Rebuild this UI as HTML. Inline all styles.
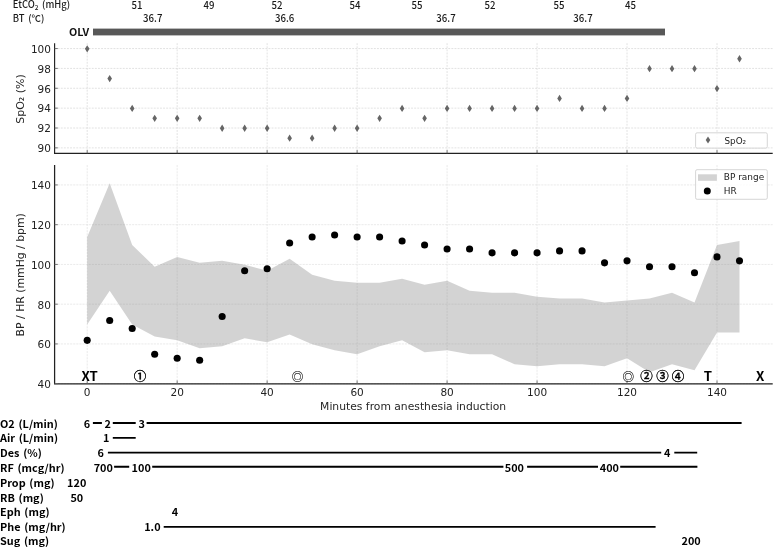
<!DOCTYPE html>
<html lang="ja"><head><meta charset="utf-8"><title>Anesthesia record</title>
<style>html,body{margin:0;padding:0;background:#fff}body{width:778px;height:548px;overflow:hidden}</style></head>
<body>
<svg width="778" height="548" viewBox="0 0 778 548" style="display:block">
<rect width="778" height="548" fill="#fff"/>
<g font-family='"Noto Sans CJK JP","Liberation Sans",sans-serif' font-size="9.6" font-weight="500" fill="#1a1a1a">
<text x="12.8" y="8.2" textLength="57.3" lengthAdjust="spacingAndGlyphs" style="word-spacing:1.6px">EtCO<tspan font-size="6.5" dy="1.6">2</tspan><tspan dy="-1.6"> (mHg)</tspan></text>
<text x="12.8" y="21.8" textLength="31.6" lengthAdjust="spacingAndGlyphs" style="word-spacing:1.6px">BT (℃)</text>
</g>
<g transform="scale(0.94,1)" font-family='"Noto Sans CJK JP","Liberation Sans",sans-serif' font-size="10.25" font-weight="500" fill="#1a1a1a" text-anchor="middle">
<text x="145.64" y="8.7">51</text>
<text x="222.34" y="8.7">49</text>
<text x="294.68" y="8.7">52</text>
<text x="377.66" y="8.7">54</text>
<text x="443.62" y="8.7">55</text>
<text x="521.28" y="8.7">52</text>
<text x="594.68" y="8.7">55</text>
<text x="670.74" y="8.7">45</text>
<text x="162.55" y="21.9">36.7</text>
<text x="302.77" y="21.9">36.6</text>
<text x="474.47" y="21.9">36.7</text>
<text x="620.21" y="21.9">36.7</text>
</g>
<text x="69" y="35.8" textLength="20.2" lengthAdjust="spacingAndGlyphs" font-family='"Noto Sans CJK JP","Liberation Sans",sans-serif' font-weight="700" font-size="10" fill="#111">OLV</text>
<rect x="93" y="28.6" width="572" height="6.8" fill="#585858"/>
<path d="M87.20 43.20V153.30M177.17 43.20V153.30M267.14 43.20V153.30M357.12 43.20V153.30M447.09 43.20V153.30M537.06 43.20V153.30M627.03 43.20V153.30M717.00 43.20V153.30M54.60 147.86H772.70M54.60 128.00H772.70M54.60 108.14H772.70M54.60 88.28H772.70M54.60 68.42H772.70M54.60 48.56H772.70" stroke="#d2d2d2" stroke-width="0.65" stroke-dasharray="1.9 1.2" fill="none"/>
<path d="M54.60 43.20V153.30H772.70" stroke="#222" stroke-width="1.15" fill="none"/>
<path d="M54.60 147.86h3.2M54.60 128.00h3.2M54.60 108.14h3.2M54.60 88.28h3.2M54.60 68.42h3.2M54.60 48.56h3.2M87.20 153.30v-3.2M177.17 153.30v-3.2M267.14 153.30v-3.2M357.12 153.30v-3.2M447.09 153.30v-3.2M537.06 153.30v-3.2M627.03 153.30v-3.2M717.00 153.30v-3.2" stroke="#666" stroke-width="0.9" fill="none"/>
<g font-family='"DejaVu Sans","Liberation Sans",sans-serif' font-size="11.1" fill="#222" text-anchor="end">
<text transform="translate(50.9,152.1) scale(0.945,1)">90</text>
<text transform="translate(50.9,132.2) scale(0.945,1)">92</text>
<text transform="translate(50.9,112.4) scale(0.945,1)">94</text>
<text transform="translate(50.9,92.5) scale(0.945,1)">96</text>
<text transform="translate(50.9,72.7) scale(0.945,1)">98</text>
<text transform="translate(50.9,52.8) scale(0.945,1)">100</text>
</g>
<text transform="translate(24.4,99.0) rotate(-90)" text-anchor="middle" font-family='"DejaVu Sans","Liberation Sans",sans-serif' font-size="11" fill="#262626">SpO₂ (%)</text>
<path d="M87.20 45.16l2.3 3.65l-2.3 3.65l-2.3 -3.65zM109.69 74.95l2.3 3.65l-2.3 3.65l-2.3 -3.65zM132.19 104.74l2.3 3.65l-2.3 3.65l-2.3 -3.65zM154.68 114.67l2.3 3.65l-2.3 3.65l-2.3 -3.65zM177.17 114.67l2.3 3.65l-2.3 3.65l-2.3 -3.65zM199.66 114.67l2.3 3.65l-2.3 3.65l-2.3 -3.65zM222.16 124.60l2.3 3.65l-2.3 3.65l-2.3 -3.65zM244.65 124.60l2.3 3.65l-2.3 3.65l-2.3 -3.65zM267.14 124.60l2.3 3.65l-2.3 3.65l-2.3 -3.65zM289.64 134.53l2.3 3.65l-2.3 3.65l-2.3 -3.65zM312.13 134.53l2.3 3.65l-2.3 3.65l-2.3 -3.65zM334.62 124.60l2.3 3.65l-2.3 3.65l-2.3 -3.65zM357.12 124.60l2.3 3.65l-2.3 3.65l-2.3 -3.65zM379.61 114.67l2.3 3.65l-2.3 3.65l-2.3 -3.65zM402.10 104.74l2.3 3.65l-2.3 3.65l-2.3 -3.65zM424.59 114.67l2.3 3.65l-2.3 3.65l-2.3 -3.65zM447.09 104.74l2.3 3.65l-2.3 3.65l-2.3 -3.65zM469.58 104.74l2.3 3.65l-2.3 3.65l-2.3 -3.65zM492.07 104.74l2.3 3.65l-2.3 3.65l-2.3 -3.65zM514.57 104.74l2.3 3.65l-2.3 3.65l-2.3 -3.65zM537.06 104.74l2.3 3.65l-2.3 3.65l-2.3 -3.65zM559.55 94.81l2.3 3.65l-2.3 3.65l-2.3 -3.65zM582.05 104.74l2.3 3.65l-2.3 3.65l-2.3 -3.65zM604.54 104.74l2.3 3.65l-2.3 3.65l-2.3 -3.65zM627.03 94.81l2.3 3.65l-2.3 3.65l-2.3 -3.65zM649.52 65.02l2.3 3.65l-2.3 3.65l-2.3 -3.65zM672.02 65.02l2.3 3.65l-2.3 3.65l-2.3 -3.65zM694.51 65.02l2.3 3.65l-2.3 3.65l-2.3 -3.65zM717.00 84.88l2.3 3.65l-2.3 3.65l-2.3 -3.65zM739.50 55.09l2.3 3.65l-2.3 3.65l-2.3 -3.65z" fill="#666"/>
<rect x="695.6" y="132.8" width="71.7" height="15.3" rx="1.5" fill="#fff" fill-opacity="0.8" stroke="#ccc" stroke-width="0.8"/>
<path d="M708 136.4l2.3 3.6l-2.3 3.6l-2.3 -3.6z" fill="#666"/>
<text x="724.5" y="143.7" font-family='"DejaVu Sans","Liberation Sans",sans-serif' font-size="8.8" fill="#222">SpO₂</text>
<path d="M87.20 165.05V383.68M177.17 165.05V383.68M267.14 165.05V383.68M357.12 165.05V383.68M447.09 165.05V383.68M537.06 165.05V383.68M627.03 165.05V383.68M717.00 165.05V383.68M54.60 383.68H772.70M54.60 343.93H772.70M54.60 304.18H772.70M54.60 264.43H772.70M54.60 224.68H772.70M54.60 184.93H772.70" stroke="#dedede" stroke-width="0.65" stroke-dasharray="2.1 1.0" fill="none"/>
<polygon points="87.20,237.00 109.69,183.34 132.19,244.95 154.68,266.81 177.17,256.88 199.66,262.84 222.16,260.85 244.65,264.83 267.14,270.79 289.64,258.86 312.13,274.76 334.62,280.73 357.12,282.72 379.61,282.72 402.10,278.74 424.59,284.70 447.09,280.73 469.58,290.67 492.07,292.65 514.57,292.65 537.06,296.63 559.55,298.62 582.05,298.62 604.54,302.59 627.03,300.60 649.52,298.62 672.02,292.65 694.51,302.59 717.00,244.95 739.50,240.98 739.50,332.40 717.00,332.40 694.51,370.17 672.02,364.20 649.52,372.15 627.03,358.24 604.54,366.19 582.05,364.20 559.55,364.20 537.06,366.19 514.57,364.20 492.07,354.27 469.58,354.27 447.09,350.29 424.59,352.28 402.10,340.35 379.61,346.32 357.12,354.27 334.62,350.29 312.13,344.33 289.64,334.39 267.14,342.34 244.65,338.37 222.16,346.32 199.66,348.30 177.17,340.35 154.68,336.38 132.19,324.45 109.69,290.67 87.20,324.45" fill="#808080" fill-opacity="0.345"/>
<path d="M54.60 165.05V383.83H772.70" stroke="#222" stroke-width="1.25" fill="none"/>
<path d="M54.60 383.68h3.2M54.60 343.93h3.2M54.60 304.18h3.2M54.60 264.43h3.2M54.60 224.68h3.2M54.60 184.93h3.2M87.20 383.68v-3.2M177.17 383.68v-3.2M267.14 383.68v-3.2M357.12 383.68v-3.2M447.09 383.68v-3.2M537.06 383.68v-3.2M627.03 383.68v-3.2M717.00 383.68v-3.2" stroke="#666" stroke-width="0.9" fill="none"/>
<g font-family='"DejaVu Sans","Liberation Sans",sans-serif' font-size="10.5" fill="#222">
<text transform="translate(50.9,388.1) scale(0.945,1)" font-size="11.1" text-anchor="end">40</text>
<text transform="translate(50.9,348.4) scale(0.945,1)" font-size="11.1" text-anchor="end">60</text>
<text transform="translate(50.9,308.6) scale(0.945,1)" font-size="11.1" text-anchor="end">80</text>
<text transform="translate(50.9,268.9) scale(0.945,1)" font-size="11.1" text-anchor="end">100</text>
<text transform="translate(50.9,229.1) scale(0.945,1)" font-size="11.1" text-anchor="end">120</text>
<text transform="translate(50.9,189.4) scale(0.945,1)" font-size="11.1" text-anchor="end">140</text>
<text x="87.2" y="395.5" text-anchor="middle">0</text>
<text x="177.2" y="395.5" text-anchor="middle">20</text>
<text x="267.1" y="395.5" text-anchor="middle">40</text>
<text x="357.1" y="395.5" text-anchor="middle">60</text>
<text x="447.1" y="395.5" text-anchor="middle">80</text>
<text x="537.1" y="395.5" text-anchor="middle">100</text>
<text x="627.0" y="395.5" text-anchor="middle">120</text>
<text x="717.0" y="395.5" text-anchor="middle">140</text>
</g>
<text transform="translate(24.3,274.8) rotate(-90)" text-anchor="middle" font-family='"DejaVu Sans","Liberation Sans",sans-serif' font-size="10.85" fill="#262626">BP / HR (mmHg / bpm)</text>
<text x="413.1" y="410.2" text-anchor="middle" font-family='"DejaVu Sans","Liberation Sans",sans-serif' font-size="10.75" fill="#262626">Minutes from anesthesia induction</text>
<circle cx="87.20" cy="340.35" r="3.55" fill="#000"/>
<circle cx="109.69" cy="320.48" r="3.55" fill="#000"/>
<circle cx="132.19" cy="328.43" r="3.55" fill="#000"/>
<circle cx="154.68" cy="354.27" r="3.55" fill="#000"/>
<circle cx="177.17" cy="358.24" r="3.55" fill="#000"/>
<circle cx="199.66" cy="360.23" r="3.55" fill="#000"/>
<circle cx="222.16" cy="316.50" r="3.55" fill="#000"/>
<circle cx="244.65" cy="270.79" r="3.55" fill="#000"/>
<circle cx="267.14" cy="268.80" r="3.55" fill="#000"/>
<circle cx="289.64" cy="242.96" r="3.55" fill="#000"/>
<circle cx="312.13" cy="237.00" r="3.55" fill="#000"/>
<circle cx="334.62" cy="235.01" r="3.55" fill="#000"/>
<circle cx="357.12" cy="237.00" r="3.55" fill="#000"/>
<circle cx="379.61" cy="237.00" r="3.55" fill="#000"/>
<circle cx="402.10" cy="240.98" r="3.55" fill="#000"/>
<circle cx="424.59" cy="244.95" r="3.55" fill="#000"/>
<circle cx="447.09" cy="248.93" r="3.55" fill="#000"/>
<circle cx="469.58" cy="248.93" r="3.55" fill="#000"/>
<circle cx="492.07" cy="252.90" r="3.55" fill="#000"/>
<circle cx="514.57" cy="252.90" r="3.55" fill="#000"/>
<circle cx="537.06" cy="252.90" r="3.55" fill="#000"/>
<circle cx="559.55" cy="250.91" r="3.55" fill="#000"/>
<circle cx="582.05" cy="250.91" r="3.55" fill="#000"/>
<circle cx="604.54" cy="262.84" r="3.55" fill="#000"/>
<circle cx="627.03" cy="260.85" r="3.55" fill="#000"/>
<circle cx="649.52" cy="266.81" r="3.55" fill="#000"/>
<circle cx="672.02" cy="266.81" r="3.55" fill="#000"/>
<circle cx="694.51" cy="272.78" r="3.55" fill="#000"/>
<circle cx="717.00" cy="256.88" r="3.55" fill="#000"/>
<circle cx="739.50" cy="260.85" r="3.55" fill="#000"/>
<rect x="695.6" y="169.7" width="71.7" height="29.6" rx="1.5" fill="#fff" fill-opacity="0.8" stroke="#ccc" stroke-width="0.8"/>
<rect x="698" y="174.3" width="18.9" height="6.5" fill="#d3d3d3"/>
<circle cx="707.3" cy="190.9" r="3.5" fill="#000"/>
<text x="723.8" y="180.4" font-family='"DejaVu Sans","Liberation Sans",sans-serif' font-size="8.95" fill="#222">BP range</text>
<text x="723.8" y="193.9" font-family='"DejaVu Sans","Liberation Sans",sans-serif' font-size="8.95" fill="#222">HR</text>
<g font-family='"Noto Sans CJK JP","Liberation Sans",sans-serif' font-weight="700" font-size="12.4" fill="#000" text-anchor="middle">
<text transform="translate(85.7,380.7) scale(1.07,1)">X</text>
<text transform="translate(93.6,380.7) scale(1.07,1)">T</text>
<text transform="translate(707.8,380.7) scale(1.07,1)">T</text>
<text transform="translate(760.2,380.7) scale(1.07,1)">X</text>
</g>
<g font-family='"Noto Sans CJK JP","Liberation Sans",sans-serif' font-size="12.5" font-weight="500" stroke="#000" stroke-width="0.35" fill="#000" text-anchor="middle">
<text x="140.1" y="381.2">①</text>
<text x="646.6" y="380.7">②</text>
<text x="662.5" y="380.7">③</text>
<text x="678" y="380.7">④</text>
<text x="297.5" y="380.8" font-size="11.6" font-weight="400" stroke-width="0.12">◎</text>
<text x="628.2" y="380.8" font-size="11.6" font-weight="400" stroke-width="0.12">◎</text>
</g>
<g transform="scale(1.055,1)" font-family='"Noto Sans CJK JP","Liberation Sans",sans-serif' font-weight="700" font-size="10.3" fill="#000" style="word-spacing:1.2px">
<text x="0" y="427.7">O2 (L/min)</text>
<text x="0" y="442.5">Air (L/min)</text>
<text x="0" y="457.3">Des (%)</text>
<text x="0" y="471.9">RF (mcg/hr)</text>
<text x="0" y="487.1">Prop (mg)</text>
<text x="0" y="501.9">RB (mg)</text>
<text x="0" y="516.4">Eph (mg)</text>
<text x="0" y="531.2">Phe (mg/hr)</text>
<text x="0" y="545.5">Sug (mg)</text>
<text x="82.37" y="427.7" text-anchor="middle">6</text>
<text x="102.18" y="427.7" text-anchor="middle">2</text>
<text x="134.22" y="427.7" text-anchor="middle">3</text>
<text x="100.76" y="442.5" text-anchor="middle">1</text>
<text x="95.36" y="457.3" text-anchor="middle">6</text>
<text x="632.32" y="457.3" text-anchor="middle">4</text>
<text x="97.91" y="471.9" text-anchor="middle">700</text>
<text x="133.84" y="471.9" text-anchor="middle">100</text>
<text x="487.58" y="471.9" text-anchor="middle">500</text>
<text x="577.63" y="471.9" text-anchor="middle">400</text>
<text x="72.70" y="487.1" text-anchor="middle">120</text>
<text x="72.80" y="501.9" text-anchor="middle">50</text>
<text x="165.88" y="516.4" text-anchor="middle">4</text>
<text x="144.45" y="531.2" text-anchor="middle">1.0</text>
<text x="655.07" y="545.5" text-anchor="middle">200</text>
</g>
<path d="M92.9 423.00H101.9M112.8 423.00H135.7M146.6 423.00H741.6M112.8 437.90H135.7M107.9 452.60H661.2M674.3 452.60H697.2M114.1 466.80H129.2M152.2 466.80H503.4M527.1 466.80H598M620.2 466.80H697.4M163.7 526.90H655.6" stroke="#000" stroke-width="1.9" fill="none"/>
</svg>
</body></html>
